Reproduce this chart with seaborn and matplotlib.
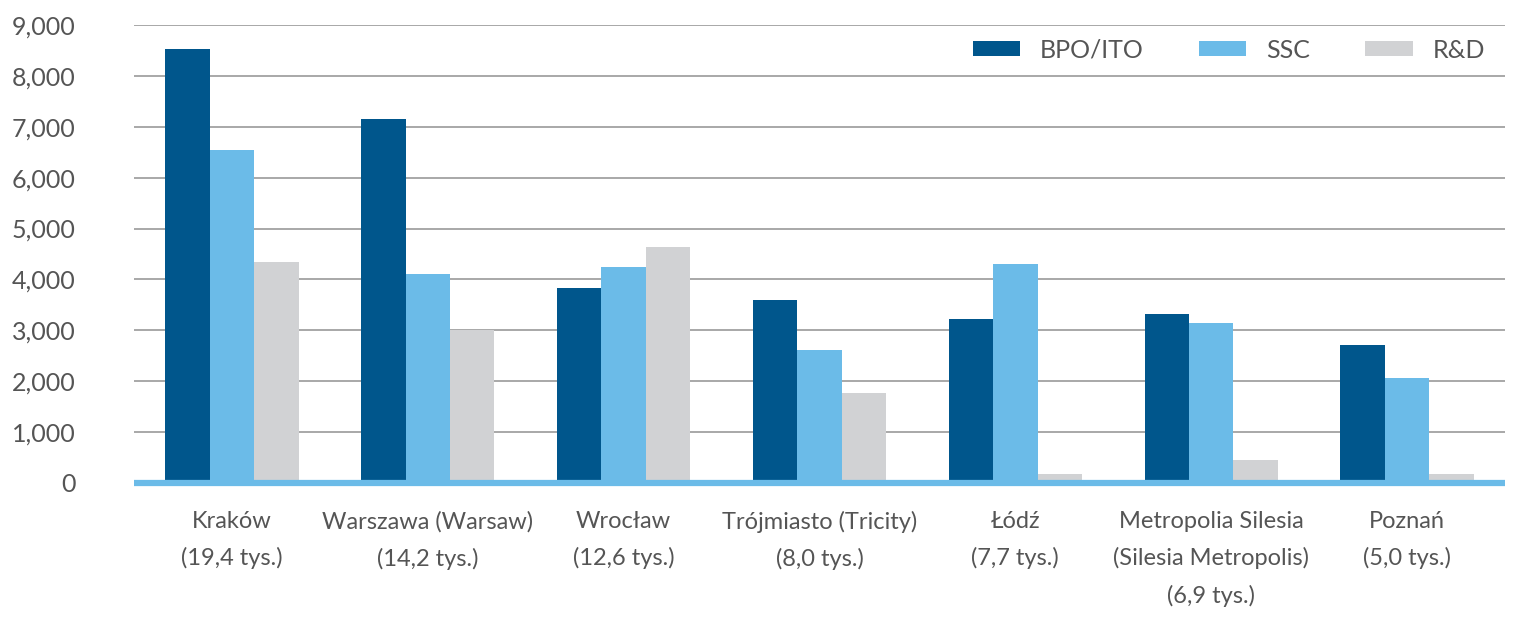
import matplotlib
matplotlib.use('Agg')
import matplotlib.pyplot as plt
import seaborn as sns
import pandas as pd

cities = ['Kraków\n(19,4 tys.)', 'Warszawa (Warsaw)\n(14,2 tys.)', 'Wrocław\n(12,6 tys.)',
          'Trójmiasto (Tricity)\n(8,0 tys.)', 'Łódź\n(7,7 tys.)',
          'Metropolia Silesia\n(Silesia Metropolis)\n(6,9 tys.)', 'Poznań\n(5,0 tys.)']
bpo_ito = [8520, 7150, 3830, 3600, 3220, 3320, 2710]
ssc = [6540, 4100, 4240, 2610, 4300, 3140, 2060]
rnd = [4340, 3000, 4640, 1770, 180, 450, 180]
series = ['BPO/ITO', 'SSC', 'R&D']
colors = ['#00568c', '#6bbbe8', '#d1d2d4']

df = pd.DataFrame({'city': cities * 3,
                   'typ': [series[0]] * 7 + [series[1]] * 7 + [series[2]] * 7,
                   'val': bpo_ito + ssc + rnd})

sns.set_style('white')
plt.rcParams['font.family'] = ['Lato', 'DejaVu Sans']
txt = '#555555'

fig = plt.figure(figsize=(15.16, 6.31), dpi=100)
ax = fig.add_axes([0.0884, 0.2346, 0.9043, 0.7258])
sns.barplot(data=df, x='city', y='val', hue='typ', palette=colors, width=0.68,
            saturation=1, ax=ax, edgecolor='none')

ax.set_ylim(0, 9000)
ax.set_xlim(-0.5, 6.5)
ax.set_yticks(range(0, 9001, 1000))
ax.set_yticklabels(['{:,}'.format(v) for v in range(0, 9001, 1000)])
ax.yaxis.grid(True, color='#9a9a9a', lw=1.2)
ax.set_axisbelow(True)
ax.axhline(0, color='#6bbbe8', lw=4.5, zorder=5, clip_on=False, solid_capstyle='butt')
for s in ax.spines.values():
    s.set_visible(False)
ax.set_xlabel('')
ax.set_ylabel('')
ax.tick_params(axis='y', length=0, pad=42, labelsize=18, labelcolor=txt)
ax.tick_params(axis='x', length=0, pad=20, labelsize=17, labelcolor=txt)
for lab in ax.get_xticklabels():
    lab.set_linespacing(1.85)

ax.legend(loc='center right', bbox_to_anchor=(0.993, 0.945), ncol=3, frameon=False,
          fontsize=18, labelcolor=txt, handlelength=1.9, handleheight=0.55,
          columnspacing=2.2, handletextpad=0.8, borderaxespad=0)

fig.savefig('out.png', dpi=100)
